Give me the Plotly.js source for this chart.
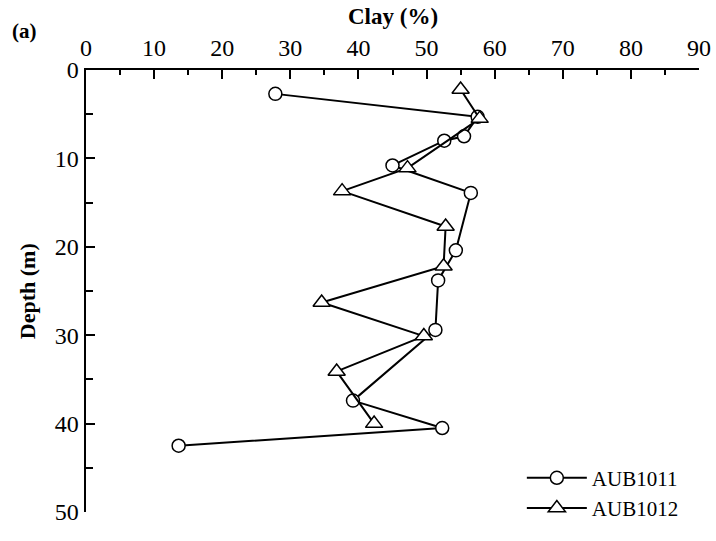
<!DOCTYPE html>
<html>
<head>
<meta charset="utf-8">
<script src="https://cdn.plot.ly/plotly-3.0.1.min.js"></script>
<style>html,body{margin:0;padding:0;background:#fff;}#chart{width:716px;height:541px;}</style>
</head>
<body>
<div id="chart"></div>
<script>
// Data
const depthAUB1011 = [2.7, 5.3, 7.5, 8.0, 10.8, 13.9, 20.4, 23.8, 29.4, 37.4, 40.5, 42.5];
const clayAUB1011  = [27.8, 57.5, 55.5, 52.6, 45.0, 56.5, 54.3, 51.7, 51.3, 39.2, 52.3, 13.6];
const depthAUB1012 = [2.2, 5.5, 11.1, 13.7, 17.7, 22.2, 26.3, 30.1, 34.1, 40.0];
const clayAUB1012  = [55.0, 57.8, 47.2, 37.6, 52.8, 52.5, 34.6, 49.6, 36.8, 42.3];
const seriesNames = ["AUB1011", "AUB1012"];
const xTickVals = [0, 10, 20, 30, 40, 50, 60, 70, 80, 90];
const yTickVals = [0, 10, 20, 30, 40, 50];

const serif = "Liberation Serif, Times New Roman, serif";

const traces = [
  {
    x: clayAUB1011, y: depthAUB1011, name: seriesNames[0],
    type: "scatter", mode: "lines+markers",
    line: {color: "#000", width: 2},
    marker: {symbol: "circle", size: 13, color: "#fff", line: {color: "#000", width: 1.5}}
  },
  {
    x: clayAUB1012, y: depthAUB1012, name: seriesNames[1],
    type: "scatter", mode: "lines+markers",
    line: {color: "#000", width: 2},
    marker: {symbol: "triangle-up", size: 15, color: "#fff", line: {color: "#000", width: 1.5}}
  }
];

const layout = {
  width: 716, height: 541,
  margin: {l: 86, r: 17, t: 70, b: 16},
  paper_bgcolor: "#fff", plot_bgcolor: "#fff",
  showlegend: true,
  font: {family: serif, color: "#000"},
  xaxis: {
    side: "top", range: [0, 90], tickvals: xTickVals, ticktext: xTickVals.map(String),
    ticks: "inside", ticklen: 9, tickwidth: 2, tickcolor: "#000",
    minor: {dtick: 5, ticks: "inside", ticklen: 5, tickwidth: 2, tickcolor: "#000"},
    showline: true, linewidth: 2.5, linecolor: "#000", showgrid: false, zeroline: false,
    tickfont: {family: serif, size: 24, color: "#000"},
    ticklabelstandoff: 2
  },
  yaxis: {
    range: [50, 0], tickvals: yTickVals, ticktext: yTickVals.map(String),
    ticks: "inside", ticklen: 9, tickwidth: 2, tickcolor: "#000",
    minor: {dtick: 5, ticks: "inside", ticklen: 7, tickwidth: 2, tickcolor: "#000"},
    showline: true, linewidth: 2.5, linecolor: "#000", showgrid: false, zeroline: false,
    tickfont: {family: serif, size: 24, color: "#000"}
  },
  legend: {
    x: 0.711, y: 0.123, xanchor: "left", yanchor: "top",
    bgcolor: "rgba(0,0,0,0)", borderwidth: 0,
    font: {family: serif, size: 21, color: "#000"},
    itemwidth: 60, tracegroupgap: 0
  },
  annotations: [
    {text: "<b>(a)</b>", xref: "paper", yref: "paper", x: -0.124, y: 1.088,
     xanchor: "left", yanchor: "middle", showarrow: false,
     font: {family: serif, size: 21, color: "#000"}},
    {text: "<b>Clay (%)</b>", xref: "paper", yref: "paper", x: 0.5, y: 1.121,
     xanchor: "center", yanchor: "middle", showarrow: false,
     font: {family: serif, size: 23, color: "#000"}},
    {text: "<b>Depth (m)</b>", xref: "paper", yref: "paper", x: -0.096, y: 0.5,
     xanchor: "center", yanchor: "middle", textangle: -90, showarrow: false,
     font: {family: serif, size: 22, color: "#000"}}
  ]
};

Plotly.newPlot("chart", traces, layout, {displayModeBar: false, staticPlot: true});
</script>
</body>
</html>
